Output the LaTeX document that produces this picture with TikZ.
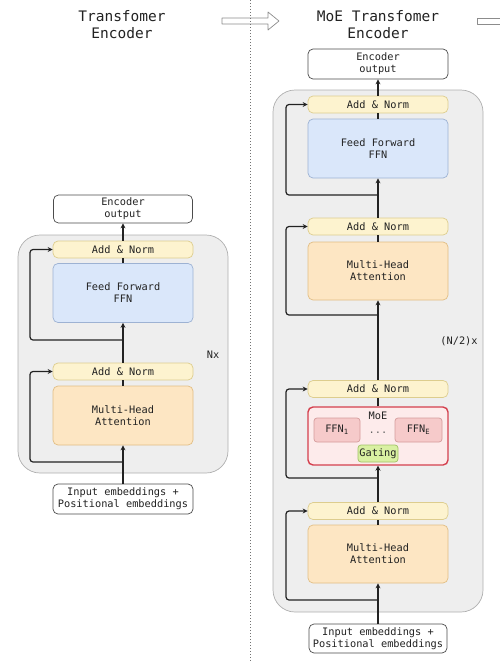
\documentclass[tikz,border=0pt]{standalone}
\usepackage{fontspec}
\setmonofont{DejaVu Sans Mono}
\usetikzlibrary{arrows.meta}
\definecolor{txt}{HTML}{222222}
\definecolor{greyfill}{HTML}{EEEEEE}
\definecolor{greyline}{HTML}{AFAFAF}
\definecolor{anfill}{HTML}{FDF3CF}
\definecolor{anline}{HTML}{DDCD8E}
\definecolor{ffnfill}{HTML}{DAE7FA}
\definecolor{ffnline}{HTML}{9DB2D3}
\definecolor{mhafill}{HTML}{FDE6C3}
\definecolor{mhaline}{HTML}{E2BE84}
\definecolor{moefill}{HTML}{FDEBEB}
\definecolor{moeline}{HTML}{D4404E}
\definecolor{expfill}{HTML}{F6CACA}
\definecolor{expline}{HTML}{D59C9C}
\definecolor{gatefill}{HTML}{D9F0A2}
\definecolor{gateline}{HTML}{A0C266}
\tikzset{
  base/.style={rounded corners=5pt, line width=0.7pt, text=txt, align=center, inner sep=0pt},
  iobox/.style={base, draw=black!70, fill=white, minimum width=139pt},
  anbox/.style={base, draw=anline, fill=anfill, minimum width=140pt, minimum height=17pt},
  ffnbox/.style={base, draw=ffnline, fill=ffnfill, minimum width=140pt, minimum height=59pt},
  mhabox/.style={base, draw=mhaline, fill=mhafill, minimum width=140pt, minimum height=59pt},
  moebox/.style={base, draw=moeline, fill=moefill, line width=1.4pt, minimum width=140pt, minimum height=58pt},
  expbox/.style={base, draw=expline, fill=expfill, minimum width=46pt, minimum height=24pt, rounded corners=3pt},
  gatebox/.style={base, draw=gateline, fill=gatefill, minimum width=40pt, minimum height=17pt, rounded corners=3pt},
  greybox/.style={draw=greyline, fill=greyfill, line width=0.7pt, rounded corners=22pt, minimum width=210pt},
  conn/.style={draw=txt, line width=1.2pt, -{Stealth[length=5pt,width=5pt]}},
  plain/.style={draw=txt, line width=1.2pt},
  resid/.style={draw=txt, line width=1.2pt, rounded corners=3pt, -{Stealth[length=5pt,width=5pt]}},
  title/.style={text=txt, align=center, font=\ttfamily\fontsize{14.5}{17}\selectfont},
  hollow/.style={draw=black!45, fill=white, line width=0.7pt, line join=round},
}
\begin{document}
\begin{tikzpicture}[x=1pt,y=-1pt, font=\ttfamily\fontsize{10.3}{12}\selectfont]
\useasboundingbox (0,0) rectangle (500,662);

% titles
\node[title] (ltitle) at (122,24.5) {Transfomer\\Encoder};
\node[title] (rtitle) at (378,24.5) {MoE Transfomer\\Encoder};

% hollow arrows and separator
\draw[hollow] (222,18) -- (268,18) -- (268,12) -- (279,21) -- (268,30) -- (268,24) -- (222,24) -- cycle;
\draw[hollow] (500,18) -- (477,18) -- (477,24) -- (500,24);
\draw[black!55, line width=0.8pt, dash pattern=on 1pt off 2pt] (250,0) -- (250,662);

% ---------------- left encoder ----------------
\node[greybox, minimum height=238pt] (lgrey) at (123,354) {};
\node[iobox, minimum height=28pt] (lout) at (123,209) {Encoder\\output};
\node[anbox] (lan1) at (123,249.5) {Add \& Norm};
\node[ffnbox] (lffn) at (123,293) {Feed Forward\\FFN};
\node[anbox] (lan2) at (123,371.5) {Add \& Norm};
\node[mhabox] (lmha) at (123,415.5) {Multi-Head\\Attention};
\node[iobox, minimum height=30pt, minimum width=140pt] (lin) at (123,499) {Input embeddings +\\Positional embeddings};
\node[text=txt] (lnx) at (213,355) {Nx};

\draw[conn] (lin.north) -- (lmha.south);
\draw[plain] (lmha.north) -- (lan2.south);
\draw[conn] (lan2.north) -- (lffn.south);
\draw[plain] (lffn.north) -- (lan1.south);
\draw[conn] (lan1.north) -- (lout.south);
\coordinate (lb1) at (123,462);
\coordinate (lb2) at (123,340);
\draw[resid] (lb1) -- ++(-93,0) |- (lan2.west);
\draw[resid] (lb2) -- ++(-93,0) |- (lan1.west);

% ---------------- right encoder ----------------
\node[greybox, minimum height=522pt] (rgrey) at (378,351) {};
\node[iobox, minimum height=30pt, minimum width=140pt] (rout) at (378,64) {Encoder\\output};
\node[anbox] (ran1) at (378,104.5) {Add \& Norm};
\node[ffnbox] (rffn) at (378,148.5) {Feed Forward\\FFN};
\node[anbox] (ran2) at (378,226.5) {Add \& Norm};
\node[mhabox, minimum height=58pt] (rmha2) at (378,271) {Multi-Head\\Attention};
\node[anbox] (ran3) at (378,389) {Add \& Norm};
\node[moebox] (moe) at (378,436) {};
\node[text=txt] (moelabel) at (378,416) {MoE};
\node[expbox] (ffn1) at (337,430) {FFN\textsubscript{1}};
\node[expbox, minimum width=47pt] (ffne) at (418.5,430) {FFN\textsubscript{E}};
\node[text=txt!70] (dots) at (378,433) {...};
\node[gatebox] (gate) at (378,453.5) {Gating};
\node[anbox] (ran4) at (378,511) {Add \& Norm};
\node[mhabox, minimum height=58pt] (rmha4) at (378,554) {Multi-Head\\Attention};
\node[iobox, minimum height=29pt, minimum width=138pt] (rin) at (378,638.5) {Input embeddings +\\Positional embeddings};
\node[text=txt] (rnx) at (459,341) {(N/2)x};

\draw[conn] (rin.north) -- (rmha4.south);
\draw[plain] (rmha4.north) -- (ran4.south);
\draw[conn] (ran4.north) -- (moe.south);
\draw[plain] (moe.north) -- (ran3.south);
\draw[conn] (ran3.north) -- (rmha2.south);
\draw[plain] (rmha2.north) -- (ran2.south);
\draw[conn] (ran2.north) -- (rffn.south);
\draw[plain] (rffn.north) -- (ran1.south);
\draw[conn] (ran1.north) -- (rout.south);
\coordinate (rb1) at (378,600);
\coordinate (rb2) at (378,478);
\coordinate (rb3) at (378,315);
\coordinate (rb4) at (378,195);
\draw[resid] (rb1) -- ++(-92,0) |- (ran4.west);
\draw[resid] (rb2) -- ++(-92,0) |- (ran3.west);
\draw[resid] (rb3) -- ++(-92,0) |- (ran2.west);
\draw[resid] (rb4) -- ++(-92,0) |- (ran1.west);
\end{tikzpicture}
\end{document}
